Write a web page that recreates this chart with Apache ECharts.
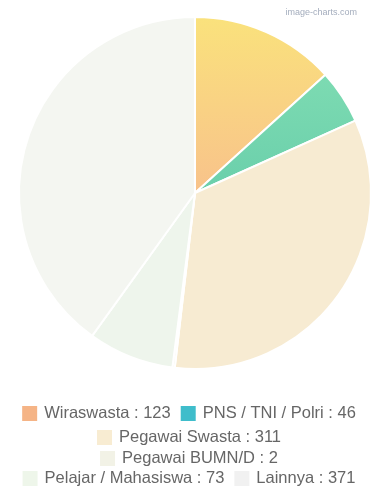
<!DOCTYPE html>
<html><head><meta charset="utf-8">
<script src="https://cdn.jsdelivr.net/npm/echarts@6/dist/echarts.min.js"></script>
<style>html,body{margin:0;padding:0;background:#fff}#c{width:378px;height:491px}</style>
</head><body><div id="c"></div>
<script>
const categories = ['Wiraswasta','PNS / TNI / Polri','Pegawai Swasta','Pegawai BUMN/D','Pelajar / Mahasiswa','Lainnya'];
const values = [123,46,311,2,73,371];
const legendRows = [
  ['Wiraswasta','PNS / TNI / Polri'],
  ['Pegawai Swasta'],
  ['Pegawai BUMN/D'],
  ['Pelajar / Mahasiswa','Lainnya']
];
const sliceColors = [
  {type:'linear',x:0,y:0,x2:0,y2:1,colorStops:[{offset:0,color:'#fae27c'},{offset:1,color:'#f8c28b'}]},
  {type:'linear',x:0,y:0,x2:0,y2:1,colorStops:[{offset:0,color:'#7ddbb2'},{offset:1,color:'#6acfab'}]},
  '#f7ebd2','#f1f1e6','#eef5ec','#f4f6f1'
];
const legendColors = ['#f5b486','#3fbdcb','#f8ecd2','#f2f2e6','#eef6ea','#f1f1f1'];

const chart = echarts.init(document.getElementById('c'));
const font = 'Liberation Sans, Arial, sans-serif';
const rowTops = [400, 424, 445, 465];
chart.setOption({
  animation:false,
  title:{text:'image-charts.com',right:16,top:3,textStyle:{fontSize:9,fontWeight:'normal',color:'#a4adbd',fontFamily:font}},
  legend: legendRows.map((row,i)=>({
    left:'center', top:rowTops[i], orient:'horizontal',
    icon:'rect', itemWidth:15, itemHeight:15, itemGap:10,
    selectedMode:false,
    textStyle:{fontSize:16.5,color:'#666',fontFamily:font,padding:[0,0,0,2]},
    formatter:(name)=> name + ' : ' + values[categories.indexOf(name)],
    data: row.map(n=>({name:n,itemStyle:{color:legendColors[categories.indexOf(n)],borderWidth:0}}))
  })),
  series:[{
    type:'pie', center:[195,193], radius:176, startAngle:90, clockwise:true,
    label:{show:false}, labelLine:{show:false},
    itemStyle:{borderColor:'#fff',borderWidth:2},
    emphasis:{disabled:true},
    data: categories.map((c,i)=>({name:c,value:values[i],itemStyle:{color:sliceColors[i]}}))
  }]
});
</script></body></html>
